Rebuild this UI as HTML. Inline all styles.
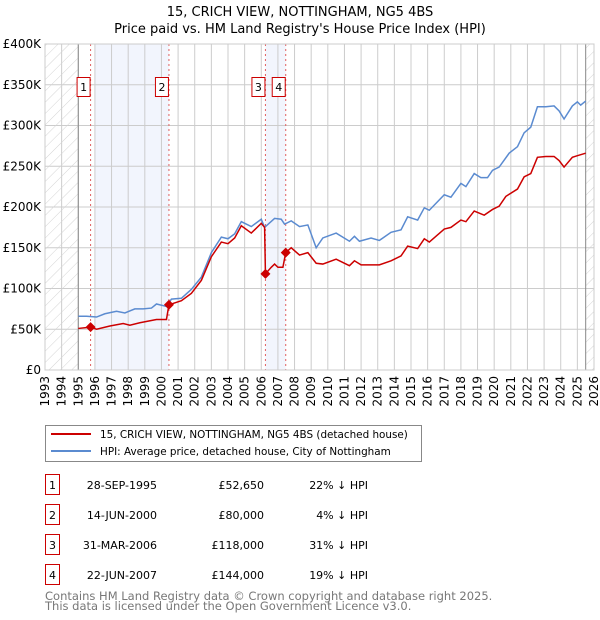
<!DOCTYPE html>
<html><head><meta charset="utf-8">
<style>
body{margin:0;background:#fff;}
svg{display:block;font-family:"DejaVu Sans","Liberation Sans",sans-serif;}
</style></head>
<body>
<svg id="chart" width="600" height="620" viewBox="0 0 600 620" xmlns="http://www.w3.org/2000/svg">
<defs>
<pattern id="hatch" patternUnits="userSpaceOnUse" width="8" height="8" patternTransform="rotate(45)">
<line x1="0" y1="0" x2="0" y2="8" stroke="#d4d4d4" stroke-width="1"/>
</pattern>
</defs>
<text x="300" y="16" text-anchor="middle" font-size="13">15, CRICH VIEW, NOTTINGHAM, NG5 4BS</text>
<text x="300" y="33" text-anchor="middle" font-size="13">Price paid vs. HM Land Registry's House Price Index (HPI)</text>
<g id="plot"></g>
<g>
<rect x="45.5" y="425.5" width="376" height="36" fill="#fff" stroke="#888"/>
<line x1="51" y1="434" x2="91" y2="434" stroke="#cc0000" stroke-width="2"/>
<text x="100" y="438" font-size="10.4">15, CRICH VIEW, NOTTINGHAM, NG5 4BS (detached house)</text>
<line x1="51" y1="451" x2="91" y2="451" stroke="#5b8bd0" stroke-width="2"/>
<text x="100" y="455" font-size="10.4">HPI: Average price, detached house, City of Nottingham</text>
</g>
<g id="table" font-size="11"></g>
<text x="45" y="600" font-size="11.5" fill="#777">Contains HM Land Registry data © Crown copyright and database right 2025.</text>
<text x="45" y="610" font-size="11.5" fill="#777">This data is licensed under the Open Government Licence v3.0.</text>
</svg>
<script>
const hpiYears=[1995.0,1995.5,1996.1,1996.6,1997.3,1997.8,1998.4,1998.9,1999.4,1999.7,2000.3,2000.6,2001.2,2001.8,2002.4,2003.0,2003.6,2004.0,2004.4,2004.8,2005.4,2006.0,2006.2,2006.8,2007.2,2007.4,2007.8,2008.3,2008.8,2009.3,2009.7,2010.5,2011.3,2011.6,2011.9,2012.6,2013.1,2013.8,2014.4,2014.8,2015.4,2015.8,2016.1,2017.0,2017.4,2018.0,2018.3,2018.8,2019.2,2019.6,2019.9,2020.3,2020.9,2021.4,2021.8,2022.2,2022.6,2023.1,2023.6,2023.9,2024.2,2024.7,2025.0,2025.2,2025.5];
const hpiValues=[66,66,65,69,72,70,75,75,76,81,78,87,88,99,114,144,163,161,167,182,176,185,175,186,185,179,183,176,178,150,162,168,158,164,158,162,159,169,172,188,184,199,196,215,212,229,225,241,236,236,245,249,266,274,291,298,323,323,324,318,308,324,329,325,330];
const ppYears=[1995.0,1995.74,1996.1,1996.9,1997.7,1998.1,1998.7,1999.7,2000.3,2000.45,2001.2,2001.8,2002.4,2003.0,2003.6,2004.0,2004.4,2004.8,2005.4,2006.0,2006.2,2006.25,2006.6,2006.8,2007.0,2007.3,2007.47,2007.8,2008.3,2008.8,2009.3,2009.7,2010.5,2011.3,2011.6,2012.0,2013.1,2013.8,2014.4,2014.8,2015.4,2015.8,2016.1,2017.0,2017.4,2018.0,2018.3,2018.8,2019.4,2019.9,2020.3,2020.7,2021.4,2021.8,2022.2,2022.6,2023.1,2023.6,2023.9,2024.2,2024.7,2025.0,2025.5];
const ppValues=[51,52.65,50,54,57,55,58,62,62,80,85,94,110,139,157,155,162,177,168,180,175,118,126,130,126,126,144,150,141,144,131,130,136,128,134,129,129,134,140,152,149,161,157,173,175,184,182,195,190,197,201,213,222,237,241,261,262,262,257,249,261,263,266];
const saleYears=[1995.74,2000.45,2006.25,2007.47];
const saleValues=[52.65,80,118,144];
const saleLabels=["1","2","3","4"];
const saleDates=["28-SEP-1995","14-JUN-2000","31-MAR-2006","22-JUN-2007"];
const salePrices=["£52,650","£80,000","£118,000","£144,000"];
const saleHpi=["22% ↓ HPI","4% ↓ HPI","31% ↓ HPI","19% ↓ HPI"];
const yTicks=[0,50,100,150,200,250,300,350,400];
const yTickLabels=["£0","£50K","£100K","£150K","£200K","£250K","£300K","£350K","£400K"];
const xTicks=[1993,1994,1995,1996,1997,1998,1999,2000,2001,2002,2003,2004,2005,2006,2007,2008,2009,2010,2011,2012,2013,2014,2015,2016,2017,2018,2019,2020,2021,2022,2023,2024,2025,2026];

const NS="http://www.w3.org/2000/svg";
const X0=45,X1=594,Y0=370,Y1=44;
const xs=y=>X0+(y-1993)/(2026-1993)*(X1-X0);
const ys=v=>Y0-v/400*(Y0-Y1);
const plot=document.getElementById('plot');
function mk(tag,attrs,parent){const e=document.createElementNS(NS,tag);for(const k in attrs)e.setAttribute(k,attrs[k]);(parent||plot).appendChild(e);return e;}

const sh1=mk('rect',{x:xs(1996),y:Y1,width:xs(saleYears[1])-xs(1996),height:Y0-Y1,fill:'#f2f5fd'});


const sh2=mk('rect',{x:xs(saleYears[2]),y:Y1,width:xs(saleYears[3])-xs(saleYears[2]),height:Y0-Y1,fill:'#f2f5fd'});


yTicks.forEach((t,i)=>{
  mk('line',{x1:X0,x2:X1,y1:ys(t),y2:ys(t),stroke:'#ccc','stroke-width':1});
  const tx=mk('text',{x:X0-4,y:ys(t)+4,'text-anchor':'end','font-size':12});
  tx.textContent=yTickLabels[i];
  
  
});
xTicks.forEach(t=>{
  mk('line',{x1:xs(t),x2:xs(t),y1:Y1,y2:Y0,stroke:'#ccc','stroke-width':1});
  const tx=mk('text',{transform:`translate(${xs(t)+4},${Y0+6}) rotate(-90)`,'text-anchor':'end','font-size':12});
  tx.textContent=t;
  
  
});
const h1=mk('rect',{x:X0,y:Y1,width:xs(1995)-X0,height:Y0-Y1,fill:'url(#hatch)'});


const h2=mk('rect',{x:xs(2025.5),y:Y1,width:X1-xs(2025.5),height:Y0-Y1,fill:'url(#hatch)'});


mk('line',{x1:xs(1995),x2:xs(1995),y1:Y1,y2:Y0,stroke:'#888'});
mk('line',{x1:xs(2025.5),x2:xs(2025.5),y1:Y1,y2:Y0,stroke:'#888'});
saleYears.forEach(s=>mk('line',{x1:xs(s),x2:xs(s),y1:Y1,y2:Y0,stroke:'#e06060','stroke-dasharray':'2,3'}));
const hp=mk('polyline',{points:hpiYears.map((y,i)=>xs(y)+','+ys(hpiValues[i])).join(' '),fill:'none',stroke:'#5b8bd0','stroke-width':1.5});


const pp=mk('polyline',{points:ppYears.map((y,i)=>xs(y)+','+ys(ppValues[i])).join(' '),fill:'none',stroke:'#cc0000','stroke-width':1.5});


saleYears.forEach((s,i)=>{
  const x=xs(s),y=ys(saleValues[i]);
  const d=mk('polygon',{points:`${x},${y-5} ${x+5},${y} ${x},${y+5} ${x-5},${y}`,fill:'#cc0000'});
  
  
  const bx=x-14;
  const g=mk('g',{});
  
  
  mk('rect',{x:bx+0.5,y:77.5,width:13,height:19,fill:'#fff',stroke:'#cc0000'},g);
  const t=mk('text',{x:bx+7,y:91,'text-anchor':'middle','font-size':11},g);
  t.textContent=saleLabels[i];
});
mk('rect',{x:X0,y:Y1,width:X1-X0,height:Y0-Y1,fill:'none',stroke:'#ccc'});
const tb=document.getElementById('table');
saleLabels.forEach((l,i)=>{
  const cy=485+i*30;
  const g=mk('g',{},tb);
  
  
  mk('rect',{x:45.5,y:cy-10.5,width:14,height:20,fill:'#fff',stroke:'#cc0000'},g);
  const t0=mk('text',{x:52.5,y:cy+4,'text-anchor':'middle'},g);t0.textContent=l;
  const t1=mk('text',{x:157,y:cy+4,'text-anchor':'end'},g);t1.textContent=saleDates[i];
  const t2=mk('text',{x:264,y:cy+4,'text-anchor':'end'},g);t2.textContent=salePrices[i];
  const t3=mk('text',{x:368,y:cy+4,'text-anchor':'end'},g);t3.textContent=saleHpi[i];
});
</script>
</body></html>
